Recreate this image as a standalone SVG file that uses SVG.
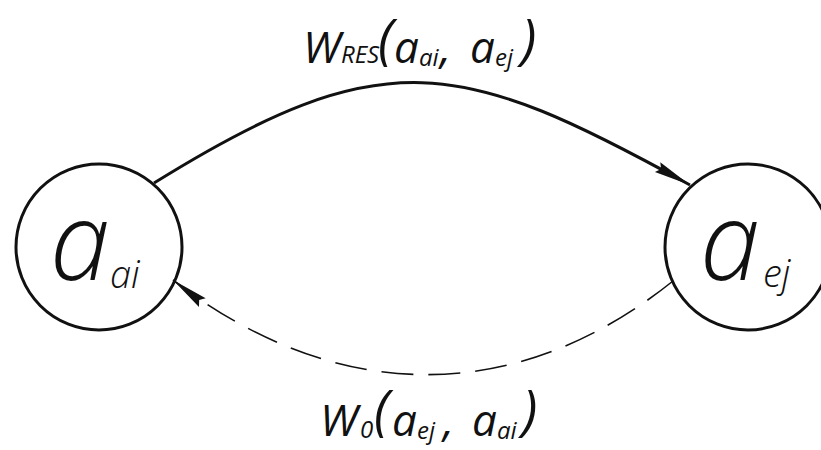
<svg xmlns="http://www.w3.org/2000/svg" width="821" height="450" viewBox="0 0 821 450">
<style>
.node{fill:none;stroke:#111;stroke-width:3}
.edge{fill:none;stroke:#111}
.solid{stroke-width:3}
.dash{stroke-width:1.6;stroke-dasharray:32 15}
text{font-family:"Open Sans","Noto Sans",sans-serif;font-style:italic;font-weight:400;fill:#111}
.big{font-size:108px;font-weight:300}
.sub{font-size:38px;font-weight:300}
.lab{font-size:44px}
.par{font-size:54px}
.lsub{font-size:24px}
</style>
<defs>
<marker id="ah" markerUnits="userSpaceOnUse" markerWidth="50" markerHeight="20" viewBox="-40 -10 42 20" refX="0" refY="0" orient="auto">
<path d="M0,0 L-37,-5.5 L-33,0 L-37,5.5 Z" fill="#111"/>
</marker>
</defs>
<rect width="821" height="450" fill="#fff"/>
<g id="connectors">
<path class="edge solid" d="M154,183 C384,40 460,58 690,185" marker-end="url(#ah)"/>
<path class="edge dash" d="M673,281 C513,409 333,403 173,280" marker-end="url(#ah)"/>
</g>
<g id="node-aai">
<circle class="node" cx="99" cy="247" r="83"/>
<text class="big" x="50" y="280">a</text>
<text class="sub" x="110" y="288">ai</text>
</g>
<g id="node-aej">
<circle class="node" cx="748" cy="247" r="83"/>
<text class="big" x="700" y="280">a</text>
<text class="sub" x="763" y="287">ej</text>
</g>
<g id="label-top">
<text class="lab" x="303" y="63">W</text>
<text class="lsub" x="341" y="63">RES</text>
<text class="par" x="378" y="58">(</text>
<text class="lab" x="394" y="63">a</text>
<text class="lsub" x="419" y="66">ai</text>
<text class="lab" x="440" y="63">,</text>
<text class="lab" x="470" y="63">a</text>
<text class="lsub" x="495" y="66">ej</text>
<text class="par" x="521" y="58">)</text>
</g>
<g id="label-bottom">
<text class="lab" x="320" y="436">W</text>
<text class="lsub" x="360" y="438">0</text>
<text class="par" x="374" y="429">(</text>
<text class="lab" x="392" y="436">a</text>
<text class="lsub" x="417" y="439">ej</text>
<text class="lab" x="443" y="436">,</text>
<text class="lab" x="472" y="436">a</text>
<text class="lsub" x="497" y="439">ai</text>
<text class="par" x="522" y="429">)</text>
</g>
</svg>
